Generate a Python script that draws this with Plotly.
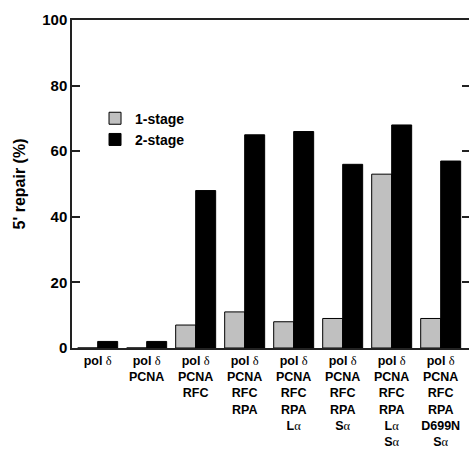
import plotly.graph_objects as go

D = '<span style="font-family:Liberation Serif, serif">δ</span>'
A = '<span style="font-family:Liberation Serif, serif">α</span>'

categories = [
    f"<b>pol </b>{D}",
    f"<b>pol </b>{D}<br><b>PCNA</b>",
    f"<b>pol </b>{D}<br><b>PCNA</b><br><b>RFC</b>",
    f"<b>pol </b>{D}<br><b>PCNA</b><br><b>RFC</b><br><b>RPA</b>",
    f"<b>pol </b>{D}<br><b>PCNA</b><br><b>RFC</b><br><b>RPA</b><br><b>L</b>{A}",
    f"<b>pol </b>{D}<br><b>PCNA</b><br><b>RFC</b><br><b>RPA</b><br><b>S</b>{A}",
    f"<b>pol </b>{D}<br><b>PCNA</b><br><b>RFC</b><br><b>RPA</b><br><b>L</b>{A}<br><b>S</b>{A}",
    f"<b>pol </b>{D}<br><b>PCNA</b><br><b>RFC</b><br><b>RPA</b><br><b>D699N</b><br><b>S</b>{A}",
]
stage1 = [0, 0, 7, 11, 8, 9, 53, 9]
stage2 = [2, 2, 48, 65, 66, 56, 68, 57]
y_ticks = [0, 20, 40, 60, 80, 100]

FONT = "Liberation Sans, Arial, sans-serif"
xs = list(range(len(categories)))
BW = 0.408

fig = go.Figure()
fig.add_trace(go.Bar(
    x=xs, y=stage1, name="<b>1-stage</b>", width=BW, offset=-BW,
    marker=dict(color="#c0c0c0", line=dict(color="#000000", width=1)),
))
fig.add_trace(go.Bar(
    x=xs, y=stage2, name="<b>2-stage</b>", width=BW, offset=0, yaxis="y2",
    marker=dict(color="#000000", line=dict(color="#000000", width=1)),
))

fig.update_layout(
    width=473, height=449,
    margin=dict(l=72, r=4, t=20, b=101, autoexpand=False),
    paper_bgcolor="white", plot_bgcolor="white",
    barmode="overlay",
    font=dict(family=FONT, color="black"),
    showlegend=True,
    legend=dict(
        x=0.058, y=0.748, xanchor="left", yanchor="top",
        bgcolor="rgba(0,0,0,0)", font=dict(size=14, family=FONT),
        traceorder="normal", itemwidth=30,
    ),
    yaxis2=dict(
        overlaying="y", side="right", anchor="x", range=[0, 100],
        tickvals=y_ticks, showticklabels=False, ticks="inside", ticklen=7,
        tickwidth=1.5, tickcolor="#222222", showline=False, showgrid=False,
        zeroline=False, automargin=False,
    ),
)

fig.update_xaxes(
    tickmode="array", tickvals=xs, ticktext=categories,
    range=[-0.524, 7.578], showline=True, mirror=True, linecolor="#222222",
    linewidth=1.5, ticks="", showgrid=False, zeroline=False, automargin=False,
    tickfont=dict(size=12.5, family=FONT), tickangle=0,
)
fig.layout.yaxis.update(
    range=[0, 100], tickvals=y_ticks, ticktext=[f"<b>{v}</b>" for v in y_ticks],
    showline=True, linecolor="#222222", linewidth=1.5,
    ticks="inside", ticklen=8, tickwidth=1.5,
    tickcolor="#222222", showgrid=False, zeroline=False, automargin=False,
    tickfont=dict(size=15, family=FONT),
    title=dict(text="<b>5' repair (%)</b>", font=dict(size=16, family=FONT), standoff=13),
)

fig.write_html(
    "out.html",
    config={"displayModeBar": False},
    post_script="document.body.style.margin='0';document.body.style.overflow='hidden';",
)
